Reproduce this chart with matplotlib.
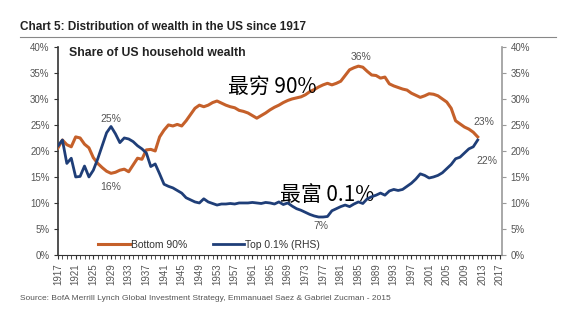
import matplotlib
matplotlib.use("Agg")
import matplotlib.pyplot as plt
from matplotlib.lines import Line2D
from matplotlib import font_manager

years = list(range(1917, 2013))
bottom90 = [20.6, 22.1, 21.2, 20.8, 22.7, 22.5, 21.3, 20.6, 18.7, 17.6,
            16.8, 16.1, 15.7, 15.9, 16.3, 16.5, 16.0, 17.3, 18.6, 18.4,
            20.2, 20.3, 20.0, 22.7, 24.0, 25.0, 24.8, 25.1, 24.8, 25.8,
            27.0, 28.2, 28.8, 28.5, 28.8, 29.3, 29.6, 29.2, 28.8, 28.5,
            28.3, 27.8, 27.6, 27.3, 26.8, 26.3, 26.8, 27.3, 27.9, 28.4,
            28.8, 29.3, 29.7, 30.0, 30.2, 30.4, 30.8, 31.4, 31.8, 32.3,
            32.7, 33.0, 32.7, 33.0, 33.4, 34.5, 35.6, 36.0, 36.3, 36.1,
            35.3, 34.6, 34.5, 34.0, 34.2, 32.9, 32.5, 32.2, 31.9, 31.7,
            31.1, 30.7, 30.3, 30.6, 31.0, 30.9, 30.6, 30.0, 29.4, 28.2,
            25.8, 25.2, 24.6, 24.2, 23.6, 22.7]
top01 = [21.0, 22.1, 17.6, 18.6, 15.0, 15.1, 17.1, 15.0, 16.3, 18.5,
         21.0, 23.5, 24.7, 23.3, 21.6, 22.5, 22.3, 21.8, 21.0, 20.4,
         19.6, 17.0, 17.5, 15.6, 13.6, 13.2, 12.9, 12.4, 11.9, 11.0,
         10.6, 10.2, 10.0, 10.8, 10.2, 9.9, 9.6, 9.8, 9.8, 9.9,
         9.8, 10.0, 10.0, 10.0, 10.1, 10.0, 9.9, 10.1, 10.0, 9.8,
         10.2, 9.7, 10.0, 9.4, 8.9, 8.6, 8.2, 7.8, 7.5, 7.3,
         7.3, 7.4, 8.5, 8.9, 9.3, 9.6, 9.3, 9.8, 10.2, 9.9,
         10.8, 11.2, 11.5, 11.9, 11.5, 12.3, 12.6, 12.4, 12.6, 13.2,
         13.8, 14.6, 15.6, 15.3, 14.8, 15.0, 15.3, 15.8, 16.6, 17.4,
         18.5, 18.8, 19.6, 20.4, 20.8, 22.1]
xtick_years = list(range(1917, 2018, 4))
ytick_vals = list(range(0, 41, 5))
ytick_labels = [f"{v}%" for v in ytick_vals]

names = {f.name for f in font_manager.fontManager.ttflist}
narrow = "Liberation Sans Narrow" if "Liberation Sans Narrow" in names else "Liberation Sans"
plt.rcParams['font.family'] = [narrow, 'DejaVu Sans']

orange = '#C5602A'
blue = '#1F3E78'
grey_txt = '#555555'

fig = plt.figure(figsize=(5.76, 3.28), dpi=100)
ax = fig.add_axes([0.1007, 0.2226, 0.7708, 0.6344])
ax2 = ax.twinx()

ax.plot(years, bottom90, color=orange, lw=2.2, label='Bottom 90%', zorder=3)
ax2.plot(years, top01, color=blue, lw=2.0, label='Top 0.1% (RHS)', zorder=3)

for a in (ax, ax2):
    a.set_ylim(0, 40)
    a.set_xlim(1917, 2017.5)
    a.set_yticks(ytick_vals)
    a.set_yticklabels(ytick_labels, fontsize=7, color=grey_txt)
    a.spines['top'].set_visible(False)

ax.spines['left'].set_color('#333333')
ax.spines['bottom'].set_color('#333333')
ax.spines['right'].set_visible(False)
ax2.spines['left'].set_visible(False)
ax2.spines['bottom'].set_visible(False)
ax2.spines['right'].set_color('#999999')
ax2.spines['right'].set_linewidth(1.2)
ax.spines['left'].set_linewidth(1.2)

ax.tick_params(axis='y', direction='out', length=3, color='#333333', pad=3)
ax2.tick_params(axis='y', direction='out', length=3, color='#999999', pad=3)

ax.set_xticks(xtick_years)
ax.set_xticklabels([str(y) for y in xtick_years], rotation=90, fontsize=7, color=grey_txt)
ax.set_xticks(years + [2013, 2014, 2015, 2016, 2017], minor=True)
ax.tick_params(axis='x', which='both', direction='out', length=3, color='#333333', pad=3)

# legend
h1, l1 = ax.get_legend_handles_labels()
h2, l2 = ax2.get_legend_handles_labels()
leg = ax.legend(h1 + h2, l1 + l2, loc='lower left', bbox_to_anchor=(0.07, -0.02), ncol=2,
                frameon=False, fontsize=7.5, handlelength=3.0, handletextpad=0.1,
                columnspacing=2.5)
for t in leg.get_texts():
    t.set_color('#333333')

# annotations
ann = dict(fontsize=7.5, color=grey_txt, ha='center', va='center')
ax.text(1929, 26.2, '25%', **ann)
ax.text(1929, 13.0, '16%', **ann)
ax.text(1985.5, 38.0, '36%', **ann)
ax.text(2013.5, 25.5, '23%', **ann)
ax.text(2014.0, 18.0, '22%', **ann)
ax.text(1976.6, 5.6, '7%', **ann)

ax.text(1919.5, 38.8, 'Share of US household wealth', fontsize=8.8, fontweight='bold',
        color='#222222', ha='left', va='center')

cjk = ['Noto Sans CJK SC', 'DejaVu Sans']
ax.text(1955.5, 32.3, '最穷 90%', fontsize=15, family=cjk, color='black', ha='left', va='center')
ax.text(1967.3, 11.6, '最富 0.1%', fontsize=15, family=cjk, color='black', ha='left', va='center')

fig.text(0.035, 1 - 27 / 328, 'Chart 5: Distribution of wealth in the US since 1917',
         fontsize=8.5, fontweight='bold', color='#222222', ha='left', va='center')
fig.add_artist(Line2D([0.035, 0.965], [1 - 37 / 328, 1 - 37 / 328], color='#888888', lw=0.8))
fig.text(0.035, 1 - 298 / 328,
         'Source: BofA Merrill Lynch Global Investment Strategy, Emmanuael Saez & Gabriel Zucman - 2015',
         fontsize=6, color='#555555', ha='left', va='center')

fig.savefig('out.png', dpi=100)
